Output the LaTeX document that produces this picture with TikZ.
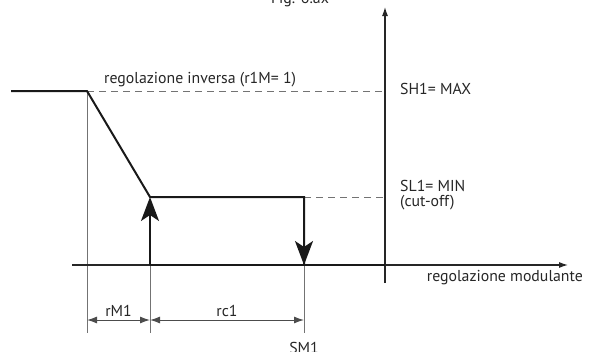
\documentclass[tikz,border=0pt]{standalone}
\usepackage{fontspec}
\setmainfont{PT Sans}
\usetikzlibrary{arrows.meta,positioning,calc}

\tikzset{
  curve/.style={line width=2pt, black!90},
  axisline/.style={line width=1.1pt, black!85},
  refline/.style={line width=0.8pt, black!55},
  guide/.style={line width=0.9pt, black!55, dash pattern=on 7pt off 5pt},
  bigtip/.style={-{Stealth[length=24pt,width=18pt,inset=6pt]}},
  dimline/.style={line width=1pt, black!70, {Latex[length=10pt,width=7pt]}-{Latex[length=10pt,width=7pt]}},
  lbl/.style={font=\fontsize{15.8}{18}\selectfont, inner sep=0pt, text=black!85}
}

\begin{document}
\begin{tikzpicture}[x=1pt,y=-1pt]
  \useasboundingbox (0,0) rectangle (593,351);
  % points of the characteristic
  \coordinate (start) at (11,91);
  \coordinate (max) at (87,91);
  \coordinate (min) at (150,197);
  \coordinate (off) at (304,197);
  \coordinate (on) at (150,265);
  \coordinate (sm) at (304,265);
  \coordinate (o) at (385,265);
  \coordinate (smax) at (385,91);
  \coordinate (smin) at (385,197);
  % axes
  \coordinate (xbeg) at (72,265);
  \coordinate (xend) at (568,265);
  \coordinate (ybeg) at (385,283);
  \coordinate (yend) at (385,7);
  % dimension marks
  \coordinate (d0) at (87,320);
  \coordinate (d1) at (150,320);
  \coordinate (d2) at (304,320);
  \coordinate (e0) at (87,333);
  \coordinate (e1) at (150,333);
  \coordinate (e2) at (304,333);

  % guide lines
  \draw[guide] (max) -- (smax);
  \draw[guide] (off) -- (smin);
  \draw[refline] (max) -- (e0);
  \draw[refline] (on) -- (e1);
  \draw[refline] (sm) -- (e2);
  \draw[dimline] (d0) -- (d1);
  \draw[dimline] (d1) -- (d2);

  % axes
  \draw[axisline,-{Latex[length=9pt,width=6pt]}] (xbeg) -- (xend);
  \draw[axisline,-{Latex[length=9pt,width=6pt]}] (ybeg) -- (yend);

  % characteristic
  \draw[curve] (start) -- (max) -- (min) -- (off) -- (sm);
  \draw[curve] (on) -- (o);
  \draw[curve,bigtip] (on) -- (min);
  \draw[curve,bigtip] (off) -- (sm);

  % labels
  \node[lbl, anchor=base] (fig) at (300,3) {Fig. 6.ax};
  \node[lbl, anchor=base west] (inv) at (104,83) {regolazione inversa (r1M= 1)};
  \node[lbl, anchor=base west] (shmax) at (400,94) {SH1= MAX};
  \node[lbl, anchor=base west] (slmin) at (400,191) {SL1= MIN};
  \node[lbl, anchor=base west] (cut) at (400,206) {(cut-off)};
  \node[lbl, anchor=base east] (mod) at (583,281) {regolazione modulante};
  \node[lbl, anchor=base] (rm) at ($(d0)!0.5!(d1)+(0,-4)$) {rM1};
  \node[lbl, anchor=base] (rc) at ($(d1)!0.5!(d2)+(0,-4)$) {rc1};
  \node[lbl, anchor=base] (smone) at (304,353) {SM1};
\end{tikzpicture}
\end{document}
